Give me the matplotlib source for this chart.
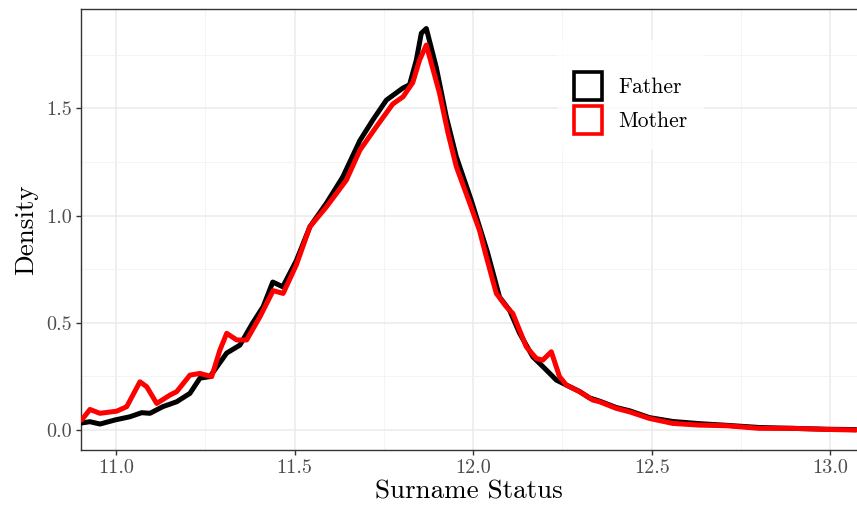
import matplotlib

matplotlib.use("Agg")
import matplotlib.pyplot as plt
from matplotlib.patches import Patch
from matplotlib.ticker import FormatStrFormatter, MultipleLocator

plt.rcParams["font.family"] = ["cmr10", "DejaVu Serif"]
plt.rcParams["mathtext.fontset"] = "cm"
plt.rcParams["axes.formatter.use_mathtext"] = True

# density curves
father_x = [10.904, 10.927, 10.955, 10.997, 11.039, 11.072, 11.095, 11.131, 11.170,
            11.207, 11.235, 11.263, 11.310, 11.347, 11.383, 11.412, 11.439, 11.467,
            11.505, 11.543, 11.589, 11.635, 11.683, 11.719, 11.757, 11.803, 11.822,
            11.841, 11.855, 11.869, 11.897, 11.925, 11.953, 11.995, 12.040, 12.074,
            12.102, 12.130, 12.167, 12.205, 12.233, 12.261, 12.298, 12.326, 12.354,
            12.401, 12.438, 12.494, 12.559, 12.633, 12.711, 12.801, 12.894, 12.988,
            13.072]
father_y = [0.033, 0.039, 0.028, 0.047, 0.062, 0.081, 0.078, 0.109, 0.132,
            0.171, 0.242, 0.249, 0.359, 0.396, 0.500, 0.575, 0.690, 0.668,
            0.790, 0.948, 1.057, 1.180, 1.350, 1.445, 1.538, 1.594, 1.610,
            1.725, 1.850, 1.872, 1.690, 1.460, 1.274, 1.070, 0.830, 0.620,
            0.559, 0.452, 0.342, 0.280, 0.233, 0.210, 0.180, 0.150, 0.135,
            0.105, 0.090, 0.058, 0.040, 0.030, 0.022, 0.012, 0.008, 0.004,
            0.002]

mother_x = [10.904, 10.927, 10.955, 11.002, 11.030, 11.067, 11.086, 11.114, 11.151,
            11.170, 11.207, 11.235, 11.268, 11.291, 11.310, 11.338, 11.366, 11.403,
            11.440, 11.468, 11.505, 11.543, 11.589, 11.645, 11.683, 11.729, 11.775,
            11.804, 11.831, 11.850, 11.869, 11.906, 11.930, 11.953, 11.990, 12.018,
            12.037, 12.065, 12.093, 12.111, 12.149, 12.177, 12.195, 12.219, 12.242,
            12.261, 12.298, 12.335, 12.354, 12.401, 12.438, 12.494, 12.559, 12.633,
            12.711, 12.801, 12.894, 12.988, 13.072]
mother_y = [0.047, 0.096, 0.078, 0.088, 0.109, 0.225, 0.202, 0.124, 0.163,
            0.179, 0.256, 0.264, 0.249, 0.373, 0.451, 0.420, 0.420, 0.528,
            0.650, 0.637, 0.770, 0.948, 1.040, 1.165, 1.305, 1.414, 1.520,
            1.554, 1.620, 1.725, 1.795, 1.570, 1.383, 1.228, 1.060, 0.930,
            0.808, 0.637, 0.575, 0.544, 0.388, 0.334, 0.326, 0.365, 0.249,
            0.210, 0.179, 0.140, 0.132, 0.101, 0.085, 0.054, 0.031, 0.023,
            0.020, 0.008, 0.008, 0.003, 0.000]

series_labels = ["Father", "Mother"]
series_colors = ["#000000", "#FF0000"]
x_ticks = [11.0, 11.5, 12.0, 12.5, 13.0]
y_ticks = [0.0, 0.5, 1.0, 1.5]

fig = plt.figure(figsize=(8.57, 5.12), dpi=100)
ax = fig.add_axes([81 / 857, 62 / 512, 776 / 857, 441 / 512])

for xs, ys, color in zip([father_x, mother_x], [father_y, mother_y], series_colors):
    ax.plot(xs, ys, color=color, linewidth=3.6, solid_joinstyle="round",
            solid_capstyle="round", zorder=3)

ax.set_xlim(10.902, 13.075)
ax.set_ylim(-0.093, 1.963)
ax.set_xticks(x_ticks)
ax.set_yticks(y_ticks)
ax.xaxis.set_minor_locator(MultipleLocator(0.25))
ax.yaxis.set_minor_locator(MultipleLocator(0.25))
ax.yaxis.set_major_formatter(FormatStrFormatter("%.1f"))
ax.xaxis.set_major_formatter(FormatStrFormatter("%.1f"))

ax.grid(True, which="major", color="#EBEBEB", linewidth=1.1)
ax.grid(True, which="minor", color="#F2F2F2", linewidth=0.6)
ax.set_axisbelow(True)
ax.tick_params(which="major", direction="out", length=3.6, width=1.0,
               color="#333333", labelsize=14.5, labelcolor="#4D4D4D", pad=3)
ax.tick_params(which="minor", length=0)
for side, spine in ax.spines.items():
    spine.set_color("#333333")
    spine.set_linewidth(1.0)
ax.spines["right"].set_visible(False)

ax.set_xlabel("Surname Status", fontsize=19.5, labelpad=2)
ax.set_ylabel("Density", fontsize=19.5, labelpad=6)

handles = [Patch(facecolor="white", edgecolor=c, linewidth=2.6, label=l)
           for l, c in zip(series_labels, series_colors)]
leg = ax.legend(handles=handles, loc="upper left", bbox_to_anchor=(0.6147, 0.9297),
                frameon=True, fancybox=False, fontsize=15.5, handlelength=1.3,
                handleheight=1.6, handletextpad=0.75, labelspacing=0.3,
                borderpad=0.75, borderaxespad=0, title=" ", title_fontsize=8)
leg.get_frame().set_edgecolor("white")
leg.get_frame().set_linewidth(0)

fig.savefig("out.png", dpi=100)
